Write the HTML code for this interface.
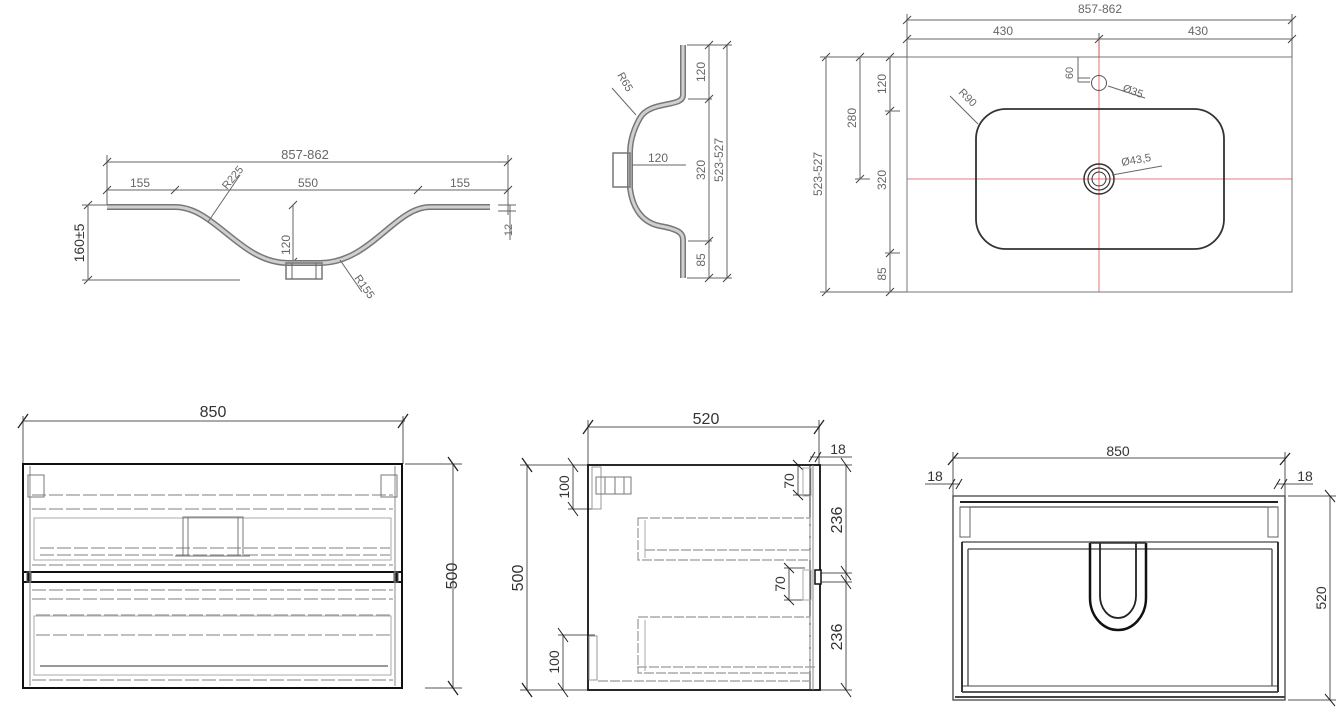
<!DOCTYPE html>
<html><head><meta charset="utf-8"><style>
html,body{margin:0;padding:0;background:#fff;}
svg{display:block;}
text{font-family:"Liberation Sans",sans-serif;}
</style></head><body>
<svg width="1343" height="723" viewBox="0 0 1343 723" xmlns="http://www.w3.org/2000/svg">
<g fill="none" stroke="#666" stroke-width="1">
<!-- ===== TOP LEFT SECTION ===== -->
<line x1="107" y1="162" x2="508" y2="162"/>
<line x1="107" y1="190" x2="508" y2="190"/>
<line x1="107" y1="155" x2="107" y2="205"/>
<line x1="508" y1="155" x2="508" y2="215"/>
<g stroke="#444">
<line x1="103" y1="166" x2="111" y2="158"/><line x1="504" y1="166" x2="512" y2="158"/>
<line x1="103" y1="194" x2="111" y2="186"/><line x1="171" y1="194" x2="179" y2="186"/>
<line x1="414" y1="194" x2="422" y2="186"/><line x1="504" y1="194" x2="512" y2="186"/>
<line x1="289" y1="209" x2="297" y2="201"/><line x1="289" y1="266" x2="297" y2="258"/>
<line x1="84" y1="209" x2="92" y2="201"/><line x1="84" y1="284" x2="92" y2="276"/>
</g>
<line x1="293" y1="205" x2="293" y2="262"/>
<line x1="88" y1="205" x2="88" y2="280"/>
<line x1="82" y1="205" x2="107" y2="205"/>
<line x1="82" y1="280" x2="240" y2="280"/>
<line x1="498" y1="205" x2="516" y2="205"/><line x1="498" y1="211" x2="516" y2="211"/>
<line x1="510" y1="205" x2="510" y2="240"/>
<path d="M107,207 L175,207 C215,207 240,263 288,263 L320,263 C370,263 395,207 430,207 L490,207" stroke="#777" stroke-width="6"/>
<path d="M107,207 L175,207 C215,207 240,263 288,263 L320,263 C370,263 395,207 430,207 L490,207" stroke="#cfcfcf" stroke-width="3"/>
<rect x="286" y="263" width="36" height="16" stroke="#777" stroke-width="1.5"/>
<line x1="292" y1="263" x2="292" y2="279"/><line x1="316" y1="263" x2="316" y2="279"/>
<line x1="208" y1="222" x2="240" y2="175"/>
<line x1="340" y1="260" x2="362" y2="292"/>
<!-- ===== TOP MIDDLE SECTION ===== -->
<path d="M683,45 L683,95 C683,108 650,100 640,118 C632,132 630,145 630,153 L630,188 C632,205 640,222 660,226 C683,230 683,235 683,242 L683,278" stroke="#777" stroke-width="6"/>
<path d="M683,45 L683,95 C683,108 650,100 640,118 C632,132 630,145 630,153 L630,188 C632,205 640,222 660,226 C683,230 683,235 683,242 L683,278" stroke="#d0d0d0" stroke-width="3"/>
<rect x="613" y="153" width="17" height="34" stroke="#777" stroke-width="1.5"/>
<line x1="687" y1="45" x2="732" y2="45"/><line x1="687" y1="278" x2="732" y2="278"/>
<line x1="709" y1="45" x2="709" y2="278"/><line x1="727" y1="45" x2="727" y2="278"/>
<line x1="688" y1="99" x2="712" y2="99"/><line x1="688" y1="241" x2="712" y2="241"/>
<line x1="632" y1="165" x2="686" y2="165"/>
<line x1="612" y1="88" x2="636" y2="115"/>
<g stroke="#444">
<line x1="705" y1="49" x2="713" y2="41"/><line x1="705" y1="103" x2="713" y2="95"/>
<line x1="705" y1="245" x2="713" y2="237"/><line x1="705" y1="282" x2="713" y2="274"/>
<line x1="723" y1="49" x2="731" y2="41"/><line x1="723" y1="282" x2="731" y2="274"/>
</g>
<!-- ===== TOP RIGHT PLAN ===== -->
<rect x="907" y="57" width="385" height="235" stroke="#777"/>
<line x1="907" y1="20" x2="1292" y2="20"/><line x1="907" y1="39" x2="1292" y2="39"/>
<line x1="907" y1="14" x2="907" y2="57"/><line x1="1292" y1="14" x2="1292" y2="57"/>
<line x1="1099" y1="33" x2="1099" y2="57"/>
<g stroke="#444">
<line x1="903" y1="24" x2="911" y2="16"/><line x1="1288" y1="24" x2="1296" y2="16"/>
<line x1="903" y1="43" x2="911" y2="35"/><line x1="1095" y1="43" x2="1103" y2="35"/><line x1="1288" y1="43" x2="1296" y2="35"/>
<line x1="822" y1="61" x2="830" y2="53"/><line x1="822" y1="296" x2="830" y2="288"/>
<line x1="856" y1="61" x2="864" y2="53"/><line x1="856" y1="183" x2="864" y2="175"/>
<line x1="886" y1="61" x2="894" y2="53"/><line x1="886" y1="115" x2="894" y2="107"/>
<line x1="886" y1="257" x2="894" y2="249"/><line x1="886" y1="296" x2="894" y2="288"/>
</g>
<line x1="826" y1="57" x2="826" y2="292"/><line x1="860" y1="57" x2="860" y2="179"/><line x1="890" y1="57" x2="890" y2="292"/>
<line x1="820" y1="57" x2="907" y2="57"/><line x1="820" y1="292" x2="907" y2="292"/>
<line x1="855" y1="179" x2="870" y2="179"/><line x1="885" y1="111" x2="900" y2="111"/><line x1="885" y1="253" x2="900" y2="253"/>
<line x1="1099" y1="39" x2="1099" y2="292" stroke="#e05050" stroke-width="0.8"/>
<line x1="907" y1="179" x2="1292" y2="179" stroke="#e05050" stroke-width="0.8"/>
<rect x="976" y="109" width="248" height="140" rx="30" stroke="#333" stroke-width="1.8"/>
<circle cx="1099" cy="179" r="15" stroke="#333" stroke-width="1.5"/>
<circle cx="1099" cy="179" r="11" stroke="#333" stroke-width="1.2"/>
<circle cx="1099" cy="179" r="7" stroke="#333" stroke-width="1"/>
<circle cx="1099" cy="83" r="7.5" stroke="#555"/>
<line x1="1108" y1="86" x2="1145" y2="98"/>
<line x1="1112" y1="175" x2="1162" y2="166"/>
<line x1="950" y1="96" x2="978" y2="124"/>
<line x1="1078" y1="57" x2="1078" y2="82"/><line x1="1078" y1="82" x2="1090" y2="82"/><line x1="1078" y1="78" x2="1090" y2="78"/>
</g>
<g fill="#666" font-size="12">
<text x="305" y="159" text-anchor="middle" font-size="13">857-862</text>
<text x="140" y="187" text-anchor="middle">155</text>
<text x="308" y="187" text-anchor="middle">550</text>
<text x="460" y="187" text-anchor="middle">155</text>
<text transform="translate(227,190) rotate(-50)" font-size="11">R225</text>
<text transform="translate(354,278) rotate(55)" font-size="11">R155</text>
<text transform="translate(290,245) rotate(-90)" text-anchor="middle">120</text>
<text transform="translate(84,243) rotate(-90)" text-anchor="middle" font-size="14" fill="#333">160±5</text>
<text transform="translate(512,230) rotate(-90)" text-anchor="middle" font-size="11">12</text>
<text transform="translate(617,75) rotate(60)" font-size="11">R65</text>
<text x="658" y="162" text-anchor="middle">120</text>
<text transform="translate(705,72) rotate(-90)" text-anchor="middle">120</text>
<text transform="translate(705,170) rotate(-90)" text-anchor="middle">320</text>
<text transform="translate(723,160) rotate(-90)" text-anchor="middle">523-527</text>
<text transform="translate(705,260) rotate(-90)" text-anchor="middle">85</text>
<text x="1100" y="13" text-anchor="middle">857-862</text>
<text x="1003" y="35" text-anchor="middle">430</text>
<text x="1198" y="35" text-anchor="middle">430</text>
<text transform="translate(822,174) rotate(-90)" text-anchor="middle">523-527</text>
<text transform="translate(856,118) rotate(-90)" text-anchor="middle">280</text>
<text transform="translate(886,84) rotate(-90)" text-anchor="middle">120</text>
<text transform="translate(886,180) rotate(-90)" text-anchor="middle">320</text>
<text transform="translate(886,274) rotate(-90)" text-anchor="middle">85</text>
<text transform="translate(1073,73) rotate(-90)" text-anchor="middle" font-size="11">60</text>
<text transform="translate(1122,91) rotate(20)" font-size="11">Ø35</text>
<text transform="translate(1122,166) rotate(-10)" font-size="11">Ø43,5</text>
<text transform="translate(958,93) rotate(45)" font-size="11">R90</text>
</g>

<!-- ===== BOTTOM LEFT FRONT ===== -->
<g fill="none" stroke="#555" stroke-width="1">
<line x1="23" y1="421" x2="405" y2="421"/>
<line x1="23" y1="416" x2="23" y2="464"/><line x1="403" y1="416" x2="403" y2="464"/>
<line x1="18" y1="428" x2="28" y2="414" stroke="#222" stroke-width="1.3"/><line x1="398" y1="428" x2="408" y2="414" stroke="#222" stroke-width="1.3"/>
<line x1="405" y1="464" x2="462" y2="464"/><line x1="425" y1="688" x2="462" y2="688"/>
<line x1="453" y1="464" x2="453" y2="688"/>
<line x1="448" y1="457" x2="458" y2="471" stroke="#222" stroke-width="1.3"/><line x1="448" y1="681" x2="458" y2="695" stroke="#222" stroke-width="1.3"/>
<rect x="23" y="464" width="379" height="224" stroke="#111" stroke-width="2"/>
<line x1="23" y1="572" x2="402" y2="572" stroke="#111" stroke-width="2"/>
<line x1="23" y1="582" x2="402" y2="582" stroke="#111" stroke-width="2"/>
<rect x="27" y="572" width="4" height="10" fill="#111"/><rect x="394" y="572" width="4" height="10" fill="#111"/>
<line x1="30" y1="466" x2="30" y2="686" stroke="#888"/><line x1="395" y1="466" x2="395" y2="686" stroke="#888"/>
<g stroke="#999" stroke-dasharray="14,3" stroke-width="1.2">
<line x1="32" y1="495" x2="393" y2="495"/>
<line x1="32" y1="509" x2="393" y2="509"/>
<line x1="40" y1="548" x2="390" y2="548"/>
<line x1="40" y1="555" x2="390" y2="555"/>
<line x1="32" y1="565" x2="393" y2="565"/>
<line x1="32" y1="590" x2="393" y2="590"/>
<line x1="32" y1="599" x2="393" y2="599"/>
<line x1="36" y1="615" x2="390" y2="615"/>
<line x1="36" y1="635" x2="390" y2="635"/>
<line x1="32" y1="680" x2="393" y2="680"/>
</g>
<rect x="34" y="518" width="357" height="42" stroke="#aaa"/>
<rect x="34" y="616" width="357" height="59" stroke="#aaa"/>
<line x1="40" y1="666" x2="388" y2="666" stroke="#777" stroke-width="1.5"/>
<rect x="183" y="517" width="60" height="39" stroke="#777"/>
<line x1="188" y1="517" x2="188" y2="556" stroke="#777"/><line x1="238" y1="517" x2="238" y2="556" stroke="#777"/>
<line x1="175" y1="556" x2="250" y2="556" stroke="#777"/>
<rect x="28" y="475" width="16" height="22" stroke="#777"/>
<rect x="381" y="475" width="16" height="22" stroke="#777"/>
</g>
<g fill="#333" font-size="16">
<text x="213" y="417" text-anchor="middle">850</text>
<text transform="translate(457,576) rotate(-90)" text-anchor="middle">500</text>
</g>

<!-- ===== BOTTOM MIDDLE SIDE ===== -->
<g fill="none" stroke="#555" stroke-width="1">
<line x1="588" y1="427" x2="820" y2="427"/>
<line x1="588" y1="420" x2="588" y2="465"/><line x1="819" y1="420" x2="819" y2="465"/>
<line x1="583" y1="434" x2="593" y2="420" stroke="#222" stroke-width="1.3"/><line x1="814" y1="434" x2="824" y2="420" stroke="#222" stroke-width="1.3"/>
<line x1="810" y1="457" x2="852" y2="457"/>
<line x1="809" y1="462" x2="815" y2="452" stroke="#222"/><line x1="815" y1="462" x2="821" y2="452" stroke="#222"/>
<line x1="527" y1="465" x2="527" y2="690"/>
<line x1="520" y1="465" x2="588" y2="465"/><line x1="520" y1="690" x2="588" y2="690"/>
<line x1="522" y1="458" x2="532" y2="472" stroke="#222" stroke-width="1.3"/><line x1="522" y1="683" x2="532" y2="697" stroke="#222" stroke-width="1.3"/>
<line x1="573" y1="465" x2="573" y2="509"/><line x1="568" y1="509" x2="595" y2="509"/>
<line x1="568" y1="458" x2="578" y2="472" stroke="#222"/><line x1="568" y1="502" x2="578" y2="516" stroke="#222"/>
<line x1="563" y1="635" x2="563" y2="690"/><line x1="558" y1="635" x2="595" y2="635"/>
<line x1="558" y1="628" x2="568" y2="642" stroke="#222"/><line x1="558" y1="683" x2="568" y2="697" stroke="#222"/>
<line x1="846" y1="465" x2="846" y2="690"/>
<line x1="820" y1="465" x2="852" y2="465"/><line x1="820" y1="573" x2="852" y2="573"/><line x1="820" y1="582" x2="852" y2="582"/><line x1="820" y1="690" x2="852" y2="690"/>
<line x1="841" y1="458" x2="851" y2="472" stroke="#222"/><line x1="841" y1="566" x2="851" y2="580" stroke="#222"/>
<line x1="841" y1="575" x2="851" y2="589" stroke="#222"/><line x1="841" y1="683" x2="851" y2="697" stroke="#222"/>
<line x1="798" y1="465" x2="798" y2="495"/><line x1="793" y1="495" x2="810" y2="495"/>
<line x1="793" y1="460" x2="803" y2="470" stroke="#222"/><line x1="793" y1="490" x2="803" y2="500" stroke="#222"/>
<line x1="789" y1="568" x2="789" y2="600"/><line x1="784" y1="568" x2="805" y2="568"/><line x1="784" y1="600" x2="805" y2="600"/>
<line x1="784" y1="563" x2="794" y2="573" stroke="#222"/><line x1="784" y1="595" x2="794" y2="605" stroke="#222"/>
<rect x="588" y="465" width="232" height="225" stroke="#111" stroke-width="1.8"/>
<line x1="810" y1="465" x2="810" y2="690" stroke="#333"/>
<line x1="813" y1="465" x2="813" y2="690" stroke="#888"/>
<rect x="815" y="570" width="6" height="14" fill="#fff" stroke="#111" stroke-width="1.5"/>
<g stroke="#999" stroke-dasharray="10,2" stroke-width="1.2">
<rect x="638" y="518" width="172" height="42"/>
<rect x="638" y="617" width="172" height="56"/>
<line x1="645" y1="550" x2="810" y2="550"/>
<line x1="637" y1="667" x2="815" y2="667"/>
<line x1="598" y1="681" x2="810" y2="681"/>
</g>
<line x1="645" y1="520" x2="645" y2="558" stroke="#aaa"/><line x1="645" y1="620" x2="645" y2="671" stroke="#aaa"/>
<rect x="803" y="468" width="8" height="28" stroke="#aaa"/>
<rect x="803" y="570" width="8" height="30" stroke="#aaa"/>
<rect x="589" y="636" width="8" height="44" stroke="#999"/>
<rect x="592" y="467" width="9" height="42" stroke="#999"/>
<rect x="596" y="477" width="35" height="17" stroke="#777"/>
<line x1="605" y1="477" x2="605" y2="494" stroke="#777"/><line x1="615" y1="477" x2="615" y2="494" stroke="#777"/><line x1="624" y1="477" x2="624" y2="494" stroke="#777"/>
</g>
<g fill="#333" font-size="16">
<text x="706" y="424" text-anchor="middle">520</text>
<text x="838" y="454" text-anchor="middle" font-size="14">18</text>
<text transform="translate(523,578) rotate(-90)" text-anchor="middle">500</text>
<text transform="translate(569,487) rotate(-90)" text-anchor="middle" font-size="14">100</text>
<text transform="translate(559,662) rotate(-90)" text-anchor="middle" font-size="14">100</text>
<text transform="translate(842,520) rotate(-90)" text-anchor="middle">236</text>
<text transform="translate(842,637) rotate(-90)" text-anchor="middle">236</text>
<text transform="translate(794,481) rotate(-90)" text-anchor="middle" font-size="14">70</text>
<text transform="translate(785,584) rotate(-90)" text-anchor="middle" font-size="14">70</text>
</g>

<!-- ===== BOTTOM RIGHT TOP VIEW ===== -->
<g fill="none" stroke="#555" stroke-width="1">
<line x1="953" y1="458" x2="1285" y2="458"/>
<line x1="953" y1="452" x2="953" y2="496"/><line x1="1285" y1="452" x2="1285" y2="496"/>
<line x1="948" y1="465" x2="958" y2="453" stroke="#222" stroke-width="1.3"/><line x1="1280" y1="465" x2="1290" y2="453" stroke="#222" stroke-width="1.3"/>
<line x1="925" y1="484" x2="960" y2="484"/>
<line x1="949" y1="489" x2="955" y2="479" stroke="#222"/><line x1="956" y1="489" x2="962" y2="479" stroke="#222"/>
<line x1="1277" y1="484" x2="1313" y2="484"/>
<line x1="1274" y1="489" x2="1280" y2="479" stroke="#222"/><line x1="1281" y1="489" x2="1287" y2="479" stroke="#222"/>
<line x1="1288" y1="496" x2="1336" y2="496"/><line x1="1288" y1="700" x2="1336" y2="700"/>
<line x1="1330" y1="496" x2="1330" y2="700"/>
<line x1="1325" y1="490" x2="1335" y2="502" stroke="#222"/><line x1="1325" y1="694" x2="1335" y2="706" stroke="#222"/>
<rect x="953" y="496" width="332" height="204" stroke="#444" stroke-width="1.3"/>
<line x1="960" y1="502" x2="1278" y2="502" stroke="#222" stroke-width="2"/>
<line x1="960" y1="507" x2="1278" y2="507" stroke="#555" stroke-width="1.2"/>
<line x1="955" y1="697" x2="1285" y2="697" stroke="#444" stroke-width="2"/>
<line x1="962" y1="692" x2="1278" y2="692" stroke="#222" stroke-width="1.5"/>
<line x1="962" y1="686" x2="1278" y2="686" stroke="#444"/>
<line x1="962" y1="542" x2="1278" y2="542" stroke="#444" stroke-width="1.3"/>
<line x1="968" y1="549" x2="1272" y2="549" stroke="#444" stroke-width="1.3"/>
<line x1="962" y1="542" x2="962" y2="692" stroke="#222" stroke-width="1.8"/>
<line x1="968" y1="549" x2="968" y2="686" stroke="#444" stroke-width="1.3"/>
<line x1="1278" y1="542" x2="1278" y2="692" stroke="#222" stroke-width="1.8"/>
<line x1="1272" y1="549" x2="1272" y2="686" stroke="#444" stroke-width="1.3"/>
<rect x="960" y="507" width="10" height="30" stroke="#666"/>
<rect x="1268" y="507" width="10" height="30" stroke="#666"/>
<path d="M1090,543 L1090,598 A28,32 0 0 0 1146,598 L1146,543" stroke="#111" stroke-width="2.5"/>
<path d="M1100,543 L1100,596 A18,22 0 0 0 1136,596 L1136,543" stroke="#222" stroke-width="1.8"/>
<line x1="1090" y1="543" x2="1146" y2="543" stroke="#333" stroke-width="1.5"/>
</g>
<g fill="#333" font-size="14">
<text x="1118" y="456" text-anchor="middle">850</text>
<text x="935" y="481" text-anchor="middle">18</text>
<text x="1305" y="481" text-anchor="middle">18</text>
<text transform="translate(1326,598) rotate(-90)" text-anchor="middle">520</text>
</g>
</svg>
</body></html>
